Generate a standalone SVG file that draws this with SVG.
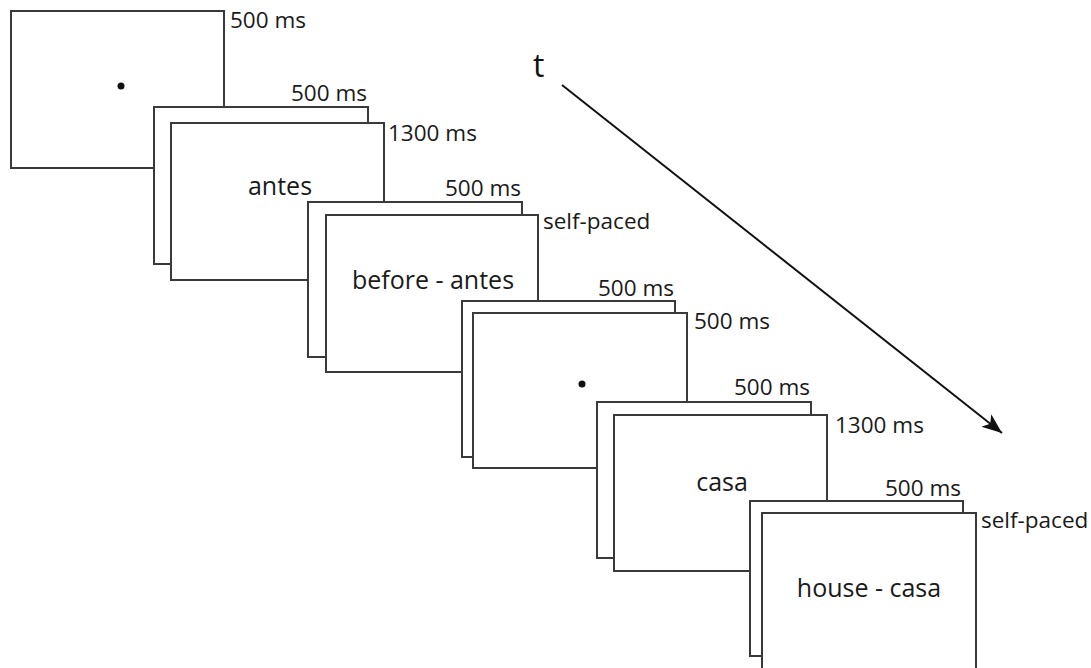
<svg xmlns="http://www.w3.org/2000/svg" width="1091" height="668" viewBox="0 0 1091 668">
<style>
.box{fill:#fff;stroke:#3a3a3a;stroke-width:2}
.lbl{font-family:"Open Sans","Liberation Sans",sans-serif;font-size:22.5px;fill:#1a1a1a}
.word{font-family:"Open Sans","Liberation Sans",sans-serif;font-size:25px;fill:#1a1a1a;text-anchor:middle}
.end{text-anchor:end}
</style>
<defs>
<marker id="ah" markerUnits="userSpaceOnUse" markerWidth="24" markerHeight="24" viewBox="0 0 24 24" refX="20" refY="12" orient="auto">
<path d="M0,4 L20,12 L0,20 L5,12 Z" fill="#111"/>
</marker>
</defs>
<rect width="1091" height="668" fill="#fff"/>
<g id="fixation1">
<rect class="box" x="11" y="11" width="213" height="157"/>
<circle cx="121" cy="86" r="3.5" fill="#111"/>
<text class="lbl" x="230" y="28">500 ms</text>
</g>
<g id="prime1">
<rect class="box" x="154" y="107" width="214" height="157"/>
<text class="lbl end" x="367" y="101">500 ms</text>
<rect class="box" x="171" y="123" width="213" height="157"/>
<text class="lbl" x="388" y="141">1300 ms</text>
<text class="word" x="280" y="195">antes</text>
</g>
<g id="trans1">
<rect class="box" x="308" y="202" width="214" height="155"/>
<text class="lbl end" x="521" y="196">500 ms</text>
<rect class="box" x="326" y="215" width="212" height="157"/>
<text class="lbl" x="543" y="229">self-paced</text>
<text class="word" x="433" y="289">before - antes</text>
</g>
<g id="fixation2">
<rect class="box" x="462" y="301" width="213" height="156"/>
<text class="lbl end" x="674" y="296">500 ms</text>
<rect class="box" x="473" y="313" width="214" height="155"/>
<text class="lbl" x="694" y="329">500 ms</text>
<circle cx="582" cy="384" r="3.5" fill="#111"/>
</g>
<g id="prime2">
<rect class="box" x="597" y="402" width="214" height="156"/>
<text class="lbl end" x="810" y="395">500 ms</text>
<rect class="box" x="614" y="415" width="213" height="156"/>
<text class="lbl" x="835" y="433">1300 ms</text>
<text class="word" x="722" y="491">casa</text>
</g>
<g id="trans2">
<rect class="box" x="750" y="501" width="213" height="155"/>
<text class="lbl end" x="961" y="496">500 ms</text>
<rect class="box" x="762" y="513" width="214" height="160"/>
<text class="lbl" x="981" y="528">self-paced</text>
<text class="word" x="869" y="597">house - casa</text>
</g>
<g id="connectors">
<line x1="562" y1="85" x2="1002" y2="433" stroke="#111" stroke-width="2" marker-end="url(#ah)"/>
</g>
<text x="533" y="77" font-family="Open Sans, Liberation Sans, sans-serif" font-size="32" fill="#111">t</text>
</svg>
